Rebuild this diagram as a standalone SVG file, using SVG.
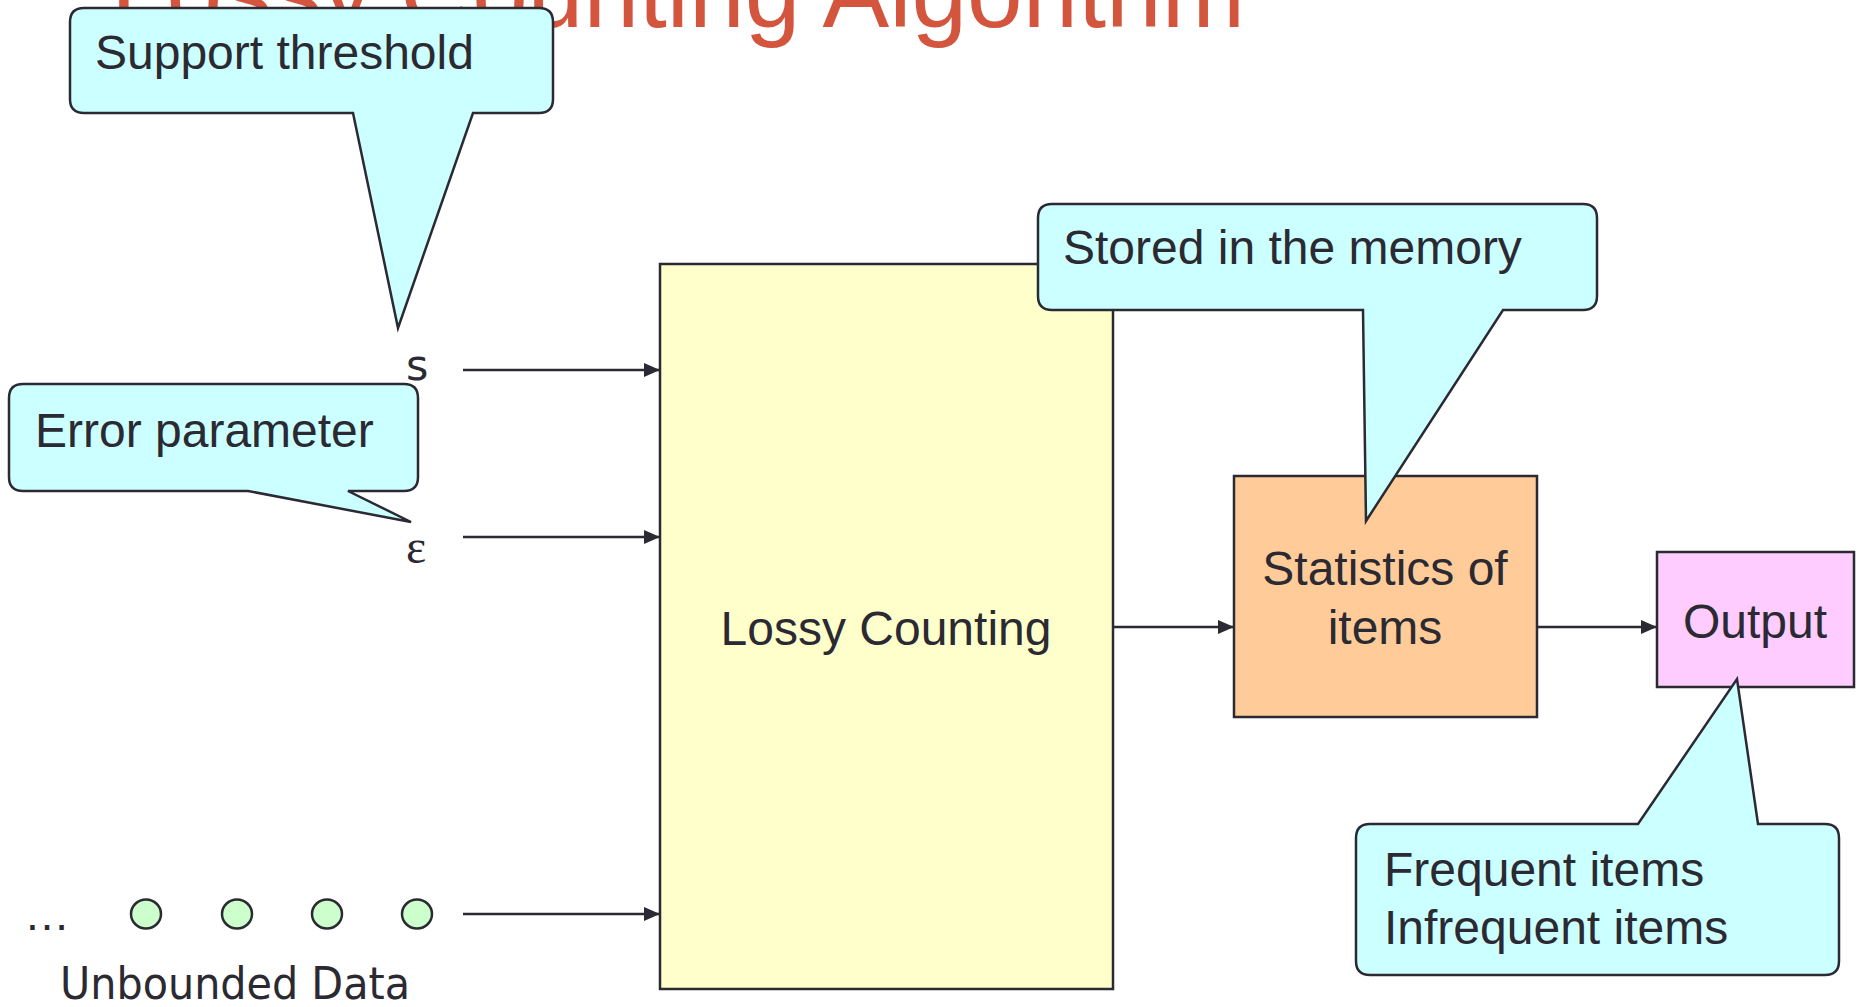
<svg xmlns="http://www.w3.org/2000/svg" width="1862" height="1007" viewBox="0 0 1862 1007">
  <style>
    .lbl { font-family: "Liberation Sans", Arial, sans-serif; font-size: 48px; fill: #2b2a33; }
    .sym { font-family: "DejaVu Sans", Verdana, sans-serif; fill: #2b2a33; }
    .box { stroke: #2b2a33; stroke-width: 2.5; }
    .callout { fill: #ccffff; stroke: #2b2a33; stroke-width: 2.5; stroke-linejoin: miter; }
    .wire { stroke: #2b2a33; stroke-width: 2.5; fill: none; }
    .item { fill: #ccffcc; stroke: #2b2a33; stroke-width: 2.5; }
  </style>
  <defs>
    <marker id="arrow" viewBox="0 0 16 14" refX="16" refY="7" markerWidth="16" markerHeight="14" markerUnits="userSpaceOnUse" orient="auto">
      <path d="M0,0 L16,7 L0,14 Z" fill="#2b2a33"/>
    </marker>
  </defs>
  <rect width="1862" height="1007" fill="#ffffff"/>

  <!-- heading, partly above the top edge -->
  <text id="title" x="111" y="27" font-family="'Liberation Sans', Arial, sans-serif" font-size="100" fill="#d4553e">Lossy Counting Algorithm</text>

  <!-- main processing block -->
  <g id="lossy-counting">
    <rect class="box" x="660" y="264" width="453" height="725" fill="#ffffcc"/>
    <text class="lbl" x="886" y="645" text-anchor="middle">Lossy Counting</text>
  </g>

  <!-- stored statistics -->
  <g id="statistics">
    <rect class="box" x="1234" y="476" width="303" height="241" fill="#ffcc99"/>
    <text class="lbl" x="1385" y="585" text-anchor="middle">Statistics of</text>
    <text class="lbl" x="1385" y="644" text-anchor="middle">items</text>
  </g>

  <!-- result -->
  <g id="output">
    <rect class="box" x="1657" y="552" width="197" height="135" fill="#ffccff"/>
    <text class="lbl" x="1755" y="638" text-anchor="middle">Output</text>
  </g>

  <!-- inputs -->
  <g id="input-s">
    <text class="sym" x="406" y="380" font-size="43">s</text>
  </g>
  <g id="input-epsilon">
    <text x="406" y="563" font-family="'Liberation Serif', 'Times New Roman', serif" font-size="48" fill="#2b2a33">ε</text>
  </g>
  <g id="data-stream">
    <text x="24" y="930" font-family="'Liberation Sans', Arial, sans-serif" font-size="46" fill="#2b2a33">…</text>
    <ellipse class="item" cx="146" cy="914" rx="15" ry="14.5"/>
    <ellipse class="item" cx="237" cy="914" rx="15" ry="14.5"/>
    <ellipse class="item" cx="327" cy="914" rx="15" ry="14.5"/>
    <ellipse class="item" cx="417" cy="914" rx="15" ry="14.5"/>
    <text class="sym" x="60" y="999" font-size="44" textLength="350" lengthAdjust="spacingAndGlyphs">Unbounded Data</text>
  </g>

  <!-- connectors -->
  <g id="connectors">
    <line class="wire" x1="463" y1="370" x2="660" y2="370" marker-end="url(#arrow)"/>
    <line class="wire" x1="463" y1="537" x2="660" y2="537" marker-end="url(#arrow)"/>
    <line class="wire" x1="463" y1="914" x2="660" y2="914" marker-end="url(#arrow)"/>
    <line class="wire" x1="1113" y1="627" x2="1234" y2="627" marker-end="url(#arrow)"/>
    <line class="wire" x1="1537" y1="627" x2="1657" y2="627" marker-end="url(#arrow)"/>
  </g>

  <!-- speech-bubble notes -->
  <g id="note-support">
    <path class="callout" d="M84,8 H539 Q553,8 553,22 V99 Q553,113 539,113 H473 L398,328 L353,113 H84 Q70,113 70,99 V22 Q70,8 84,8 Z"/>
    <text class="lbl" x="95" y="69">Support threshold</text>
  </g>
  <g id="note-error">
    <path class="callout" d="M23,384 H404 Q418,384 418,398 V477 Q418,491 404,491 H348 L411,522 L248,491 H23 Q9,491 9,477 V398 Q9,384 23,384 Z"/>
    <text class="lbl" x="35" y="447">Error parameter</text>
  </g>
  <g id="note-memory">
    <path class="callout" d="M1052,204 H1583 Q1597,204 1597,218 V296 Q1597,310 1583,310 H1503 L1366,521 L1363,310 H1052 Q1038,310 1038,296 V218 Q1038,204 1052,204 Z"/>
    <text class="lbl" x="1063" y="264">Stored in the memory</text>
  </g>
  <g id="note-output">
    <path class="callout" d="M1370,824 H1638 L1737,679 L1758,824 H1825 Q1839,824 1839,838 V961 Q1839,975 1825,975 H1370 Q1356,975 1356,961 V838 Q1356,824 1370,824 Z"/>
    <text class="lbl" x="1384" y="886">Frequent items</text>
    <text class="lbl" x="1384" y="944">Infrequent items</text>
  </g>
</svg>
